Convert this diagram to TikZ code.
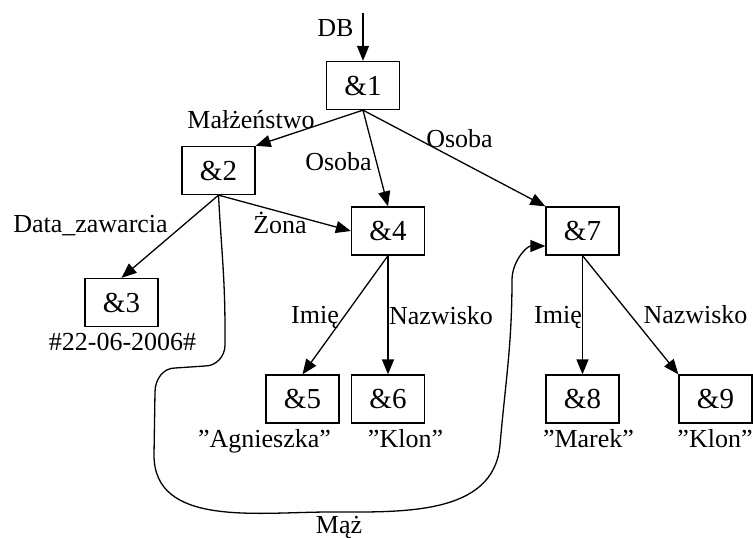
\documentclass[tikz,border=0pt]{standalone}
\usepackage{fontspec}
\setmainfont{Liberation Serif}
\usetikzlibrary{arrows.meta}
\begin{document}
\begin{tikzpicture}[x=1pt,y=1pt,
  box/.style={draw, line width=1.3pt, minimum width=73pt, minimum height=48pt, inner sep=0pt, font=\fontsize{29}{34}\selectfont},
  lab/.style={inner sep=0pt, anchor=base, font=\fontsize{26}{30}\selectfont},
  edge/.style={line width=1.3pt, -{Triangle[length=15pt,width=12pt]}}]
\useasboundingbox (0,0) rectangle (753,-538);
% boxes
\node[box] (n1) at (363,-85.5) {\&1};
\node[box] (n2) at (218.5,-170.5) {\&2};
\node[box] (n3) at (121.5,-302.5) {\&3};
\node[box] (n4) at (388,-231) {\&4};
\node[box] (n5) at (302.5,-399) {\&5};
\node[box] (n6) at (388,-399) {\&6};
\node[box] (n7) at (582.5,-231) {\&7};
\node[box] (n8) at (582.5,-399) {\&8};
\node[box] (n9) at (715.5,-399) {\&9};
% labels
\node[lab] (lDB) at (335.5,-36) {DB};
\node[lab] (lMal) at (251,-128) {Małżeństwo};
\node[lab] (lOs1) at (338.5,-170) {Osoba};
\node[lab] (lOs2) at (459.5,-147) {Osoba};
\node[lab] (lData) at (90.5,-232) {Data\_zawarcia};
\node[lab] (lZona) at (280,-233) {Żona};
\node[lab] (lIm1) at (315,-323) {Imię};
\node[lab] (lNaz1) at (441,-324) {Nazwisko};
\node[lab] (lIm2) at (558,-323) {Imię};
\node[lab] (lNaz2) at (695.5,-323) {Nazwisko};
\node[lab] (v3) at (122.5,-350) {\#22-06-2006\#};
\node[lab] (v5) at (264.5,-447) {”Agnieszka”};
\node[lab] (v6) at (405.5,-447) {”Klon”};
\node[lab] (v8) at (588.5,-447) {”Marek”};
\node[lab] (v9) at (715,-447) {”Klon”};
\node[lab] (lMaz) at (339,-533) {Mąż};
% connectors
\coordinate (dbtop) at (363,-13);
\draw[edge] (dbtop) -- (n1.north);
\draw[edge] (n1.south) -- (n2.north east);
\draw[edge] (n1.south) -- (n4.north);
\draw[edge] (n1.south) -- (n7.north west);
\draw[edge] (n2.south) -- (n3.north);
\draw[edge] (n2.south) -- (n4.west);
\draw[edge] (n4.south) -- (n5.north);
\draw[edge] (n4.south) -- (n6.north);
\draw[edge] (n7.south) -- (n8.north);
\draw[edge] (n7.south) -- (n9.north west);
\draw[edge] (n2.south) to[out=-87,in=90] (225,-330) -- (225,-345)
  to[out=-90,in=0] (205,-366) -- (175,-368)
  to[out=180,in=90] (155,-392) -- (154,-455)
  to[out=-90,in=180] (330,-512)
  to[out=0,in=-95] (500,-445)
  to[out=85,in=-90] (512,-280)
  to[out=90,in=180] ([yshift=-15pt]n7.west);
\end{tikzpicture}
\end{document}
